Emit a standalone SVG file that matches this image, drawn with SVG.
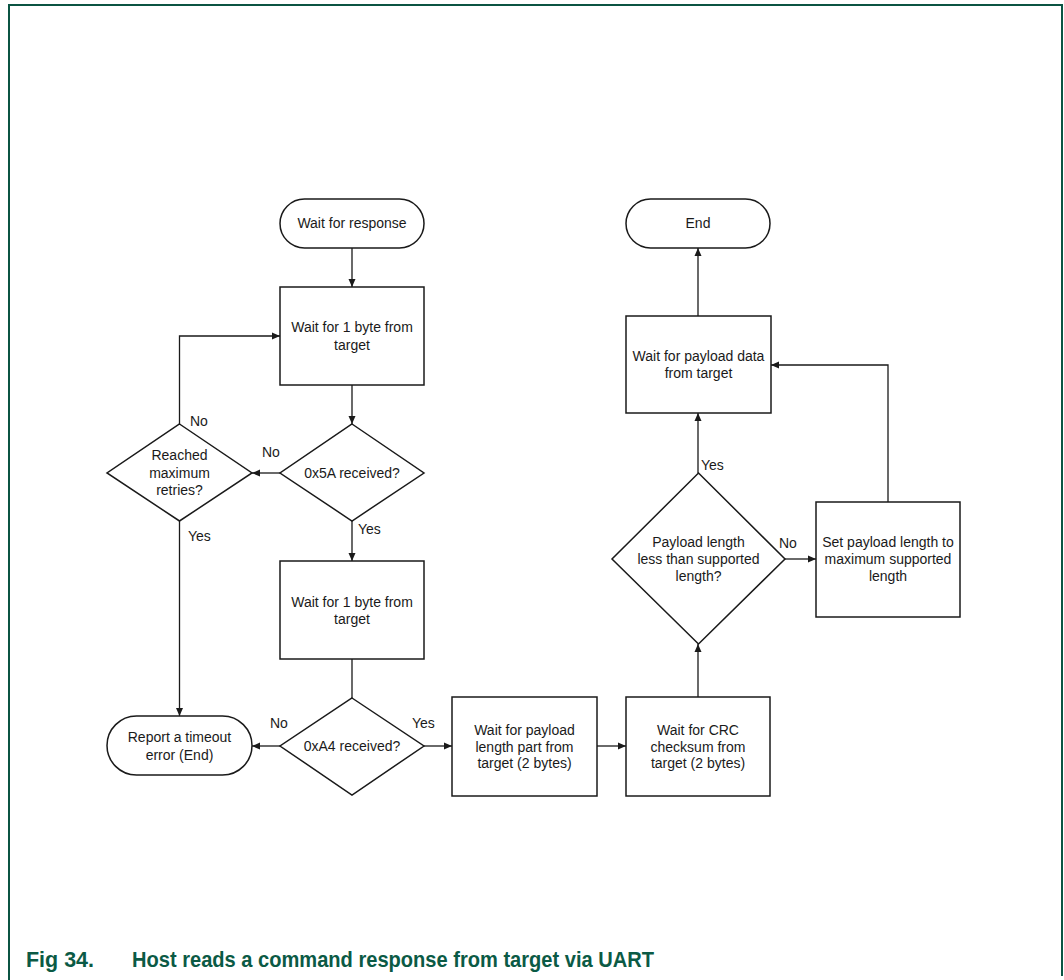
<svg xmlns="http://www.w3.org/2000/svg" width="1064" height="980" viewBox="0 0 1064 980">
<style>
.sh{fill:#fff;stroke:#1a1a1a;stroke-width:1.5}
.t{font-family:"Liberation Sans",Arial,sans-serif;font-size:14px;fill:#1a1a1a;text-anchor:middle}
.l{font-family:"Liberation Sans",Arial,sans-serif;font-size:14px;fill:#1a1a1a}
.c{fill:none;stroke:#1a1a1a;stroke-width:1.3}
.b{fill:none;stroke:#0b5443;stroke-width:2}
.cap{font-family:"Liberation Sans",Arial,sans-serif;font-size:22px;font-weight:bold;fill:#0b5a45}
</style>
<defs>
<marker id="a" markerUnits="userSpaceOnUse" markerWidth="8" markerHeight="8" viewBox="0 0 8 8" refX="8" refY="4" orient="auto">
<path d="M0,0.5 L8,4 L0,7.5 z" fill="#1a1a1a"/>
</marker>
</defs>
<rect width="1064" height="980" fill="#fff"/>
<g id="frame">
<path class="b" d="M9,980 V5 H1062 V976"/>
</g>
<g id="connectors">
<path class="c" d="M352,248 V287" marker-end="url(#a)"/>
<path class="c" d="M352,385 V424" marker-end="url(#a)"/>
<path class="c" d="M280,473 H252" marker-end="url(#a)"/>
<path class="c" d="M179.5,424 V336 H280" marker-end="url(#a)"/>
<path class="c" d="M179.5,521 V716" marker-end="url(#a)"/>
<path class="c" d="M352,521 V561" marker-end="url(#a)"/>
<path class="c" d="M352,659 V698"/>
<path class="c" d="M280,746 H252" marker-end="url(#a)"/>
<path class="c" d="M424,746 H452" marker-end="url(#a)"/>
<path class="c" d="M597,746 H626" marker-end="url(#a)"/>
<path class="c" d="M698,697 V644" marker-end="url(#a)"/>
<path class="c" d="M698,473 V413" marker-end="url(#a)"/>
<path class="c" d="M698,316 V248" marker-end="url(#a)"/>
<path class="c" d="M785,559 H816" marker-end="url(#a)"/>
<path class="c" d="M888,502 V365 H771" marker-end="url(#a)"/>
<text class="l" x="190" y="426">No</text>
<text class="l" x="262" y="457">No</text>
<text class="l" x="188" y="541">Yes</text>
<text class="l" x="358" y="534">Yes</text>
<text class="l" x="270" y="728">No</text>
<text class="l" x="412" y="728">Yes</text>
<text class="l" x="701" y="470">Yes</text>
<text class="l" x="779" y="548">No</text>
</g>
<g id="start">
<rect class="sh" x="280" y="199" width="144" height="49" rx="24.5"/>
<text class="t" x="352" y="228">Wait for response</text>
</g>
<g id="wait1">
<rect class="sh" x="280" y="287" width="144" height="98"/>
<text class="t" x="352" y="332">Wait for 1 byte from</text>
<text class="t" x="352" y="350">target</text>
</g>
<g id="d5a">
<path class="sh" d="M352,424 L424,473 L352,521 L280,473 z"/>
<text class="t" x="352" y="478">0x5A received?</text>
</g>
<g id="dretries">
<path class="sh" d="M179.5,424 L252,473 L179.5,521 L107,473 z"/>
<text class="t" x="179.5" y="460">Reached</text>
<text class="t" x="179.5" y="478">maximum</text>
<text class="t" x="179.5" y="495">retries?</text>
</g>
<g id="wait2">
<rect class="sh" x="280" y="561" width="144" height="98"/>
<text class="t" x="352" y="607">Wait for 1 byte from</text>
<text class="t" x="352" y="624">target</text>
</g>
<g id="dA4">
<path class="sh" d="M352,698 L424,746 L352,795 L280,746 z"/>
<text class="t" x="352" y="751">0xA4 received?</text>
</g>
<g id="timeout">
<rect class="sh" x="107" y="716" width="145" height="59" rx="29.5"/>
<text class="t" x="179.5" y="742">Report a timeout</text>
<text class="t" x="179.5" y="760">error (End)</text>
</g>
<g id="paylen">
<rect class="sh" x="452" y="697" width="145" height="99"/>
<text class="t" x="524.5" y="735">Wait for payload</text>
<text class="t" x="524.5" y="752">length part from</text>
<text class="t" x="524.5" y="768">target (2 bytes)</text>
</g>
<g id="crc">
<rect class="sh" x="626" y="697" width="144" height="99"/>
<text class="t" x="698" y="735">Wait for CRC</text>
<text class="t" x="698" y="752">checksum from</text>
<text class="t" x="698" y="768">target (2 bytes)</text>
</g>
<g id="dpayload">
<path class="sh" d="M698.5,473 L785,559 L698.5,644 L612,559 z"/>
<text class="t" x="698.5" y="547">Payload length</text>
<text class="t" x="698.5" y="564">less than supported</text>
<text class="t" x="698.5" y="581">length?</text>
</g>
<g id="setlen">
<rect class="sh" x="816" y="502" width="144" height="115"/>
<text class="t" x="888" y="547">Set payload length to</text>
<text class="t" x="888" y="564">maximum supported</text>
<text class="t" x="888" y="581">length</text>
</g>
<g id="paydata">
<rect class="sh" x="626" y="316" width="145" height="97"/>
<text class="t" x="698.5" y="361">Wait for payload data</text>
<text class="t" x="698.5" y="378">from target</text>
</g>
<g id="end">
<rect class="sh" x="626" y="199" width="144" height="49" rx="24.5"/>
<text class="t" x="698" y="228">End</text>
</g>
<g id="caption">
<text class="cap" x="26" y="967" textLength="68" lengthAdjust="spacingAndGlyphs">Fig 34.</text>
<text class="cap" x="132" y="967" textLength="522" lengthAdjust="spacingAndGlyphs">Host reads a command response from target via UART</text>
</g>
</svg>
